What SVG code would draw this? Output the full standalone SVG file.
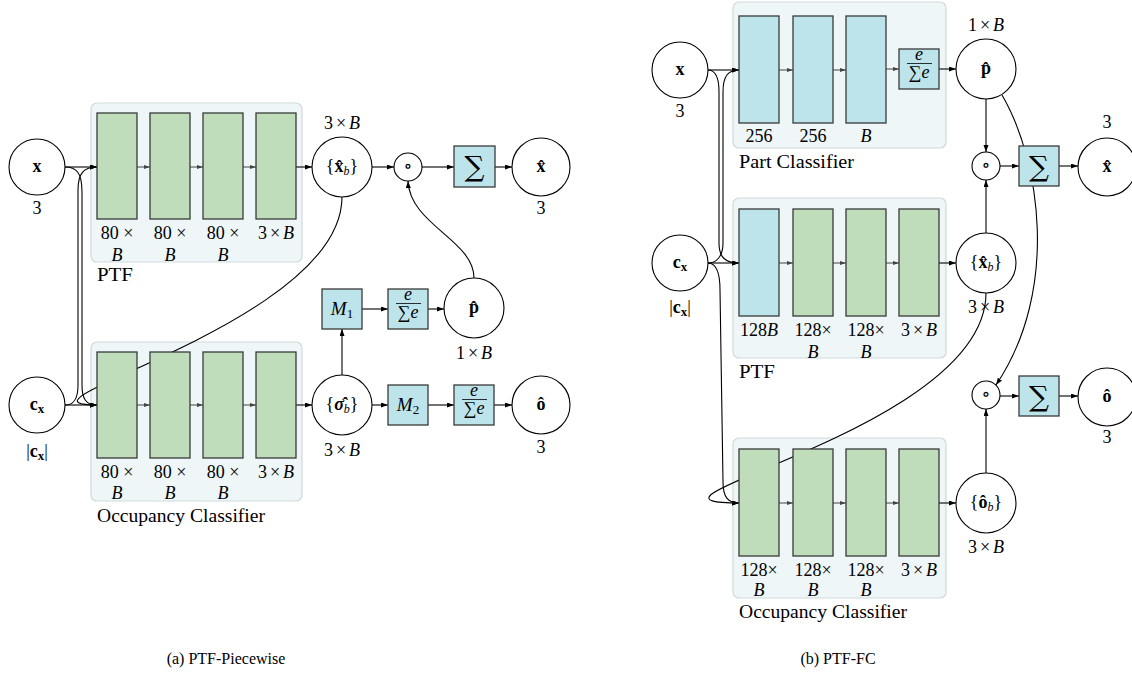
<svg xmlns="http://www.w3.org/2000/svg" width="1132" height="683" viewBox="0 0 1132 683">
<defs>
<style>
.box{fill:#eef6f8;stroke:#cfd9dc;stroke-width:1.2}
.g{fill:#bfdcbb;stroke:#3a3a3a;stroke-width:1.3}
.c{fill:#bde4ea;stroke:#3a3a3a;stroke-width:1.3}
.n{fill:#fff;stroke:#000;stroke-width:1.1}
.e{fill:none;stroke:#000;stroke-width:1.1}
.s{fill:none;stroke:#444;stroke-width:1}
text{font-family:"Liberation Serif","DejaVu Serif",serif;font-size:18px;fill:#000}
.m{text-anchor:middle}
.b{font-weight:bold}
.i{font-style:italic}
.cap{font-size:16px}
.sum{font-family:"DejaVu Serif","Liberation Serif",serif;font-size:28px}
</style>
<marker id="ah" markerUnits="userSpaceOnUse" markerWidth="8" markerHeight="6" refX="7" refY="2.5" orient="auto"><path d="M0,0 L7,2.5 L0,5 z" fill="#000"/></marker>
<marker id="as" markerUnits="userSpaceOnUse" markerWidth="7" markerHeight="5" refX="6" refY="2" orient="auto"><path d="M0,0 L6,2 L0,4 z" fill="#444"/></marker>
</defs>
<rect width="1132" height="683" fill="#fff"/>

<!-- containers -->
<g id="ptf-a-box"><rect class="box" x="91" y="103" width="211" height="159" rx="6"/></g>
<g id="occ-a-box"><rect class="box" x="91" y="342" width="211" height="159" rx="6"/></g>
<g id="part-b-box"><rect class="box" x="733" y="2" width="213" height="146" rx="6"/></g>
<g id="ptf-b-box"><rect class="box" x="733" y="198" width="213" height="160" rx="6"/></g>
<g id="occ-b-box"><rect class="box" x="733" y="438" width="213" height="160" rx="6"/></g>

<!-- connectors -->
<g id="connectors">
<!-- panel a -->
<path class="e" d="M65,167 L97,167" marker-end="url(#ah)"/>
<path class="e" d="M65,405 L97,405" marker-end="url(#ah)"/>
<path class="e" d="M65,167 C76,167 82,172 82,192 L82,385 C82,399 86,405 97,405" marker-end="url(#ah)"/>
<path class="e" d="M65,405 C74,405 78,399 78,385 L78,190 C78,173 84,167 97,167" marker-end="url(#ah)"/>
<path class="e" d="M342,197 C342,323 -8,405 97,405" marker-end="url(#ah)"/>
<path class="s" d="M137,167 L150,167" marker-end="url(#as)"/>
<path class="s" d="M190,167 L203,167" marker-end="url(#as)"/>
<path class="s" d="M243,167 L256,167" marker-end="url(#as)"/>
<path class="s" d="M137,405 L150,405" marker-end="url(#as)"/>
<path class="s" d="M190,405 L203,405" marker-end="url(#as)"/>
<path class="s" d="M243,405 L256,405" marker-end="url(#as)"/>
<path class="e" d="M296,167 L312,167" marker-end="url(#ah)"/>
<path class="e" d="M296,405 L312,405" marker-end="url(#ah)"/>
<path class="e" d="M372,167 L394,167" marker-end="url(#ah)"/>
<path class="e" d="M422,167 L454,167" marker-end="url(#ah)"/>
<path class="e" d="M495,167 L512,167" marker-end="url(#ah)"/>
<path class="e" d="M474,278 C474,240 410,225 408,181" marker-end="url(#ah)"/>
<path class="e" d="M342,375 L342,329" marker-end="url(#ah)"/>
<path class="e" d="M362,309 L388,309" marker-end="url(#ah)"/>
<path class="e" d="M428,309 L444,309" marker-end="url(#ah)"/>
<path class="e" d="M372,405 L388,405" marker-end="url(#ah)"/>
<path class="e" d="M428,405 L454,405" marker-end="url(#ah)"/>
<path class="e" d="M494,405 L512,405" marker-end="url(#ah)"/>
<!-- panel b -->
<path class="e" d="M708,70 L739,70" marker-end="url(#ah)"/>
<path class="e" d="M708,263 L739,263" marker-end="url(#ah)"/>
<path class="e" d="M708,70 C715,70 719,76 719,92 L719,243 C719,257 725,263 739,263" marker-end="url(#ah)"/>
<path class="e" d="M708,263 C716,263 723,257 723,243 L723,92 C723,76 728,70 739,70" marker-end="url(#ah)"/>
<path class="e" d="M708,263 C716,263 720,272 720,290 L723,482 C723,497 728,503 739,503" marker-end="url(#ah)"/>
<path class="e" d="M986,293 C986,430 600,503 739,503" marker-end="url(#ah)"/>
<path class="s" d="M779,70 L793,70" marker-end="url(#as)"/>
<path class="s" d="M833,70 L846,70" marker-end="url(#as)"/>
<path class="s" d="M886,69 L899,69" marker-end="url(#as)"/>
<path class="e" d="M939,69 L956,69" marker-end="url(#ah)"/>
<path class="s" d="M779,263 L793,263" marker-end="url(#as)"/>
<path class="s" d="M833,263 L846,263" marker-end="url(#as)"/>
<path class="s" d="M886,263 L899,263" marker-end="url(#as)"/>
<path class="e" d="M939,263 L956,263" marker-end="url(#ah)"/>
<path class="s" d="M779,503 L793,503" marker-end="url(#as)"/>
<path class="s" d="M833,503 L846,503" marker-end="url(#as)"/>
<path class="s" d="M886,503 L899,503" marker-end="url(#as)"/>
<path class="e" d="M939,503 L956,503" marker-end="url(#ah)"/>
<path class="e" d="M986,99 L986,152" marker-end="url(#ah)"/>
<path class="e" d="M986,233 L986,180" marker-end="url(#ah)"/>
<path class="e" d="M1000,166 L1019,166" marker-end="url(#ah)"/>
<path class="e" d="M1059,166 L1078,166" marker-end="url(#ah)"/>
<path class="e" d="M1002,95 C1040,160 1060,290 996,385" marker-end="url(#ah)"/>
<path class="e" d="M986,473 L986,409" marker-end="url(#ah)"/>
<path class="e" d="M1000,396 L1019,396" marker-end="url(#ah)"/>
<path class="e" d="M1059,396 L1078,396" marker-end="url(#ah)"/>
</g>

<!-- ===== panel a nodes ===== -->
<g id="a-x"><circle class="n" cx="37" cy="167" r="28"/><text class="m b" x="37" y="172">x</text><text class="m" x="37" y="214">3</text></g>
<g id="a-cx"><circle class="n" cx="37" cy="405" r="28"/><text class="m b" x="37" y="410">c<tspan font-size="13" dy="3">x</tspan></text><text class="m" x="37" y="457">|<tspan class="b">c</tspan><tspan class="b" font-size="13" dy="3">x</tspan><tspan dy="-3">|</tspan></text></g>
<g id="a-ptf">
<rect class="g" x="97" y="113" width="40" height="106"/><rect class="g" x="150" y="113" width="40" height="106"/><rect class="g" x="203" y="113" width="40" height="106"/><rect class="g" x="256" y="113" width="40" height="106"/>
<text class="m" x="117" y="239">80 ×</text><text class="m" x="170" y="239">80 ×</text><text class="m" x="223" y="239">80 ×</text><text class="m" x="276" y="239">3<tspan dx="3">×</tspan><tspan class="i" dx="3">B</tspan></text>
<text class="m i" x="117" y="261">B</text><text class="m i" x="170" y="261">B</text><text class="m i" x="223" y="261">B</text>
<text x="97" y="281" textLength="36" lengthAdjust="spacingAndGlyphs">PTF</text>
</g>
<g id="a-occ">
<rect class="g" x="97" y="352" width="40" height="106"/><rect class="g" x="150" y="352" width="40" height="106"/><rect class="g" x="203" y="352" width="40" height="106"/><rect class="g" x="256" y="352" width="40" height="106"/>
<text class="m" x="117" y="478">80 ×</text><text class="m" x="170" y="478">80 ×</text><text class="m" x="223" y="478">80 ×</text><text class="m" x="276" y="478">3<tspan dx="3">×</tspan><tspan class="i" dx="3">B</tspan></text>
<text class="m i" x="117" y="499">B</text><text class="m i" x="170" y="499">B</text><text class="m i" x="223" y="499">B</text>
<text x="97" y="522" textLength="168" lengthAdjust="spacingAndGlyphs">Occupancy Classifier</text>
</g>
<g id="a-xb"><circle class="n" cx="342" cy="167" r="30"/><text class="m" x="342" y="172">{<tspan class="b">x̂</tspan><tspan class="i" font-size="12" dy="3">b</tspan><tspan dy="-3">}</tspan></text><text class="m" x="342" y="129">3<tspan dx="3">×</tspan><tspan class="i" dx="3">B</tspan></text></g>
<g id="a-had"><circle class="n" cx="408" cy="167" r="14"/><text class="m" x="408" y="172">∘</text></g>
<g id="a-sum"><rect class="c" x="454" y="146" width="41" height="41"/><text class="m sum" x="474.5" y="176">∑</text></g>
<g id="a-xhat"><circle class="n" cx="541" cy="167" r="29"/><text class="m b" x="541" y="172">x̂</text><text class="m" x="541" y="214">3</text></g>
<g id="a-M1"><rect class="c" x="322" y="289" width="40" height="40"/><text class="m" x="342" y="315"><tspan class="i" font-size="19">M</tspan><tspan font-size="13" dy="3">1</tspan></text></g>
<g id="a-sm1"><rect class="c" x="388" y="289" width="40" height="40"/><text class="m i" x="408" y="300" font-size="10">e</text><line x1="396" y1="303.5" x2="421" y2="303.5" stroke="#000" stroke-width="0.8"/><text class="m" x="408" y="318" font-size="12">∑<tspan class="i">e</tspan></text></g>
<g id="a-phat"><circle class="n" cx="474" cy="308" r="30"/><text class="m b" x="474" y="313">p̂</text><text class="m" x="474" y="359">1<tspan dx="3">×</tspan><tspan class="i" dx="3">B</tspan></text></g>
<g id="a-sigma"><circle class="n" cx="342" cy="405" r="30"/><text class="m" x="342" y="410">{<tspan class="b i">σ̂</tspan><tspan class="i" font-size="12" dy="3">b</tspan><tspan dy="-3">}</tspan></text><text class="m" x="342" y="456">3<tspan dx="3">×</tspan><tspan class="i" dx="3">B</tspan></text></g>
<g id="a-M2"><rect class="c" x="388" y="385" width="40" height="40"/><text class="m" x="408" y="411"><tspan class="i" font-size="19">M</tspan><tspan font-size="13" dy="3">2</tspan></text></g>
<g id="a-sm2"><rect class="c" x="454" y="385" width="40" height="40"/><text class="m i" x="474" y="396" font-size="10">e</text><line x1="462" y1="399.5" x2="487" y2="399.5" stroke="#000" stroke-width="0.8"/><text class="m" x="474" y="414" font-size="12">∑<tspan class="i">e</tspan></text></g>
<g id="a-ohat"><circle class="n" cx="541" cy="405" r="29"/><text class="m b" x="541" y="410">ô</text><text class="m" x="541" y="453">3</text></g>

<!-- ===== panel b nodes ===== -->
<g id="b-x"><circle class="n" cx="680" cy="70" r="28"/><text class="m b" x="680" y="75">x</text><text class="m" x="680" y="117">3</text></g>
<g id="b-cx"><circle class="n" cx="680" cy="263" r="28"/><text class="m b" x="680" y="268">c<tspan font-size="13" dy="3">x</tspan></text><text class="m" x="680" y="313">|<tspan class="b">c</tspan><tspan class="b" font-size="13" dy="3">x</tspan><tspan dy="-3">|</tspan></text></g>
<g id="b-part">
<rect class="c" x="739" y="16" width="40" height="107"/><rect class="c" x="793" y="16" width="40" height="107"/><rect class="c" x="846" y="16" width="40" height="107"/>
<text class="m" x="759" y="142">256</text><text class="m" x="813" y="142">256</text><text class="m i" x="866" y="142">B</text>
<text x="739" y="168" textLength="115" lengthAdjust="spacingAndGlyphs">Part Classifier</text>
</g>
<g id="b-sm"><rect class="c" x="899" y="49" width="40" height="40"/><text class="m i" x="919" y="60" font-size="10">e</text><line x1="907" y1="63.5" x2="932" y2="63.5" stroke="#000" stroke-width="0.8"/><text class="m" x="919" y="78" font-size="12">∑<tspan class="i">e</tspan></text></g>
<g id="b-phat"><circle class="n" cx="986" cy="69" r="30"/><text class="m b" x="986" y="74">p̂</text><text class="m" x="986" y="31">1<tspan dx="3">×</tspan><tspan class="i" dx="3">B</tspan></text></g>
<g id="b-had1"><circle class="n" cx="986" cy="166" r="14"/><text class="m" x="986" y="171">∘</text></g>
<g id="b-sum1"><rect class="c" x="1019" y="146" width="40" height="40"/><text class="m sum" x="1039" y="176">∑</text></g>
<g id="b-xhat"><circle class="n" cx="1107" cy="167" r="29"/><text class="m b" x="1107" y="172">x̂</text><text class="m" x="1107" y="128">3</text></g>
<g id="b-ptf">
<rect class="c" x="739" y="209" width="40" height="107"/><rect class="g" x="793" y="209" width="40" height="107"/><rect class="g" x="846" y="209" width="40" height="107"/><rect class="g" x="899" y="209" width="40" height="107"/>
<text class="m" x="759" y="336">128<tspan class="i">B</tspan></text><text class="m" x="813" y="336">128×</text><text class="m" x="866" y="336">128×</text><text class="m" x="919" y="336">3<tspan dx="3">×</tspan><tspan class="i" dx="3">B</tspan></text>
<text class="m i" x="813" y="358">B</text><text class="m i" x="866" y="358">B</text>
<text x="739" y="378" textLength="36" lengthAdjust="spacingAndGlyphs">PTF</text>
</g>
<g id="b-xb"><circle class="n" cx="986" cy="263" r="30"/><text class="m" x="986" y="268">{<tspan class="b">x̂</tspan><tspan class="i" font-size="12" dy="3">b</tspan><tspan dy="-3">}</tspan></text><text class="m" x="986" y="313">3<tspan dx="3">×</tspan><tspan class="i" dx="3">B</tspan></text></g>
<g id="b-had2"><circle class="n" cx="986" cy="395" r="14"/><text class="m" x="986" y="400">∘</text></g>
<g id="b-sum2"><rect class="c" x="1019" y="376" width="40" height="40"/><text class="m sum" x="1039" y="406">∑</text></g>
<g id="b-ohat"><circle class="n" cx="1107" cy="397" r="29"/><text class="m b" x="1107" y="402">ô</text><text class="m" x="1107" y="443">3</text></g>
<g id="b-occ">
<rect class="g" x="739" y="449" width="40" height="107"/><rect class="g" x="793" y="449" width="40" height="107"/><rect class="g" x="846" y="449" width="40" height="107"/><rect class="g" x="899" y="449" width="40" height="107"/>
<text class="m" x="759" y="576">128×</text><text class="m" x="813" y="576">128×</text><text class="m" x="866" y="576">128×</text><text class="m" x="919" y="576">3<tspan dx="3">×</tspan><tspan class="i" dx="3">B</tspan></text>
<text class="m i" x="759" y="596">B</text><text class="m i" x="813" y="596">B</text><text class="m i" x="866" y="596">B</text>
<text x="739" y="618" textLength="168" lengthAdjust="spacingAndGlyphs">Occupancy Classifier</text>
</g>
<g id="b-ob"><circle class="n" cx="986" cy="503" r="30"/><text class="m" x="986" y="508">{<tspan class="b">ô</tspan><tspan class="i" font-size="12" dy="3">b</tspan><tspan dy="-3">}</tspan></text><text class="m" x="986" y="553">3<tspan dx="3">×</tspan><tspan class="i" dx="3">B</tspan></text></g>

<g id="captions">
<text class="m cap" x="226" y="664">(a) PTF-Piecewise</text>
<text class="m cap" x="838" y="664">(b) PTF-FC</text>
</g>
</svg>
